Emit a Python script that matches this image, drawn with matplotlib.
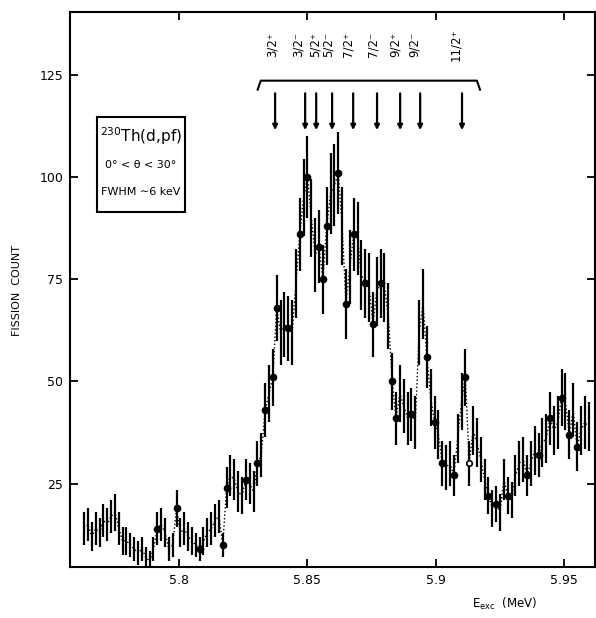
import matplotlib
matplotlib.use("Agg")
import matplotlib.pyplot as plt
from matplotlib.patches import Rectangle
import matplotlib.transforms as mtransforms
import numpy as np

# ---------------- data ----------------
energy = [
    5.7630, 5.7645, 5.7660, 5.7675, 5.7690, 5.7705, 5.7720, 5.7735, 5.7750, 5.7765,
    5.7780, 5.7795, 5.7810, 5.7825, 5.7840, 5.7855, 5.7870, 5.7885, 5.7900, 5.7915,
    5.7930, 5.7945, 5.7960, 5.7975, 5.7990, 5.8005, 5.8020, 5.8035, 5.8050, 5.8065,
    5.8080, 5.8095, 5.8110, 5.8125, 5.8140, 5.8155, 5.8170, 5.8185, 5.8200, 5.8215,
    5.8230, 5.8245, 5.8260, 5.8275, 5.8290, 5.8305, 5.8320, 5.8335, 5.8350, 5.8365,
    5.8380, 5.8395, 5.8410, 5.8425, 5.8440, 5.8455, 5.8470, 5.8485, 5.8500, 5.8515,
    5.8530, 5.8545, 5.8560, 5.8575, 5.8590, 5.8605, 5.8620, 5.8635, 5.8650, 5.8665,
    5.8680, 5.8695, 5.8710, 5.8725, 5.8740, 5.8755, 5.8770, 5.8785, 5.8800, 5.8815,
    5.8830, 5.8845, 5.8860, 5.8875, 5.8890, 5.8905, 5.8920, 5.8935, 5.8950, 5.8965,
    5.8980, 5.8995, 5.9010, 5.9025, 5.9040, 5.9055, 5.9070, 5.9085, 5.9100, 5.9115,
    5.9130, 5.9145, 5.9160, 5.9175, 5.9190, 5.9205, 5.9220, 5.9235, 5.9250, 5.9265,
    5.9280, 5.9295, 5.9310, 5.9325, 5.9340, 5.9355, 5.9370, 5.9385, 5.9400, 5.9415,
    5.9430, 5.9445, 5.9460, 5.9475, 5.9490, 5.9505, 5.9520, 5.9535, 5.9550, 5.9565,
    5.9580, 5.9595,
]
counts = [
    14, 15, 12, 14, 13, 16, 15, 17, 18, 14,
    11, 11, 10, 9, 8, 9, 7, 6, 9, 14,
    15, 13, 9, 10, 19, 13, 14, 12, 11, 10,
    9, 11, 13, 14, 16, 17, 10, 24, 27, 26,
    23, 22, 26, 25, 23, 30, 32, 43, 47, 51,
    68, 62, 64, 63, 62, 74, 86, 95, 100, 90,
    81, 83, 75, 88, 96, 98, 101, 88, 69, 78,
    86, 85, 76, 74, 73, 64, 72, 74, 73, 66,
    50, 41, 47, 44, 41, 42, 40, 62, 69, 56,
    46, 40, 37, 30, 29, 30, 27, 36, 45, 51,
    30, 38, 35, 31, 26, 22, 19, 20, 18, 26,
    22, 21, 27, 30, 31, 27, 30, 33, 32, 35,
    36, 41, 38, 40, 46, 45, 37, 43, 34, 38,
    40, 39,
]
errors = [
    4, 4, 3.5, 4, 3.5, 4, 4, 4, 4.5, 4,
    3.5, 3.5, 3, 3, 3, 3, 2.5, 2.5, 3, 4,
    4, 3.5, 3, 3, 4.5, 3.5, 4, 3.5, 3.5, 3,
    3, 3.5, 3.5, 4, 4, 4, 3, 5, 5, 5,
    5, 4.5, 5, 5, 5, 5.5, 5.5, 6.5, 7, 7,
    8, 8, 8, 8, 8, 8.5, 9, 9.5, 10, 9.5,
    9, 9, 8.5, 9.5, 10, 10, 10, 9.5, 8.5, 9,
    9, 9, 8.5, 8.5, 8.5, 8, 8.5, 8.5, 8.5, 8,
    7, 6.5, 7, 6.5, 6.5, 6.5, 6.5, 8, 8.5, 7.5,
    7, 6.5, 6, 5.5, 5.5, 5.5, 5, 6, 7, 7,
    5.5, 6, 6, 5.5, 5, 4.5, 4.5, 4.5, 4.5, 5,
    4.5, 4.5, 5, 5.5, 5.5, 5, 5.5, 6, 5.5, 6,
    6, 6.5, 6, 6.5, 7, 7, 6, 6.5, 6, 6,
    6.5, 6,
]
# channels drawn with a filled dot, and with an open circle
filled_idx = [19, 24, 30, 36, 37, 42, 45, 47, 49, 50, 53, 56, 58, 61, 62, 63,
              66, 68, 70, 73, 75, 77, 80, 81, 85, 89, 91, 93, 96, 99, 105,
              107, 110, 115, 118, 121, 124, 126, 128]
open_idx = [100]

level_energy = [5.8374, 5.8491, 5.8534, 5.8596, 5.8678, 5.8771, 5.8861, 5.8939, 5.9102]
level_label = ["3/2⁺", "3/2⁻", "5/2⁺", "5/2⁻", "7/2⁺", "7/2⁻", "9/2⁺", "9/2⁻", "11/2⁺"]
label_shift_px = [-3, -7, -1, -4, -5, -4, -5, -6, -6]

xticks = [5.80, 5.85, 5.90, 5.95]
xtick_labels = ["5.8", "5.85", "5.9", "5.95"]
yticks = [25, 50, 75, 100, 125]

# ---------------- figure ----------------
W, H = 596, 618
fig = plt.figure(figsize=(W / 100, H / 100), dpi=100)
ax = fig.add_axes([70 / W, (H - 567) / H, (595 - 70) / W, (567 - 12) / H])

E = np.array(energy)
C = np.array(counts)
S = np.array(errors)

ax.plot(E, C, linestyle=(0, (1, 1.6)), color="black", lw=1.0, zorder=2)
ax.errorbar(E, C, yerr=S, fmt="none", ecolor="black", elinewidth=1.6,
            capsize=0, zorder=3)
fi = np.array(filled_idx)
ax.plot(E[fi], C[fi], "o", color="black", ms=4.5, zorder=4)
oi = np.array(open_idx)
ax.plot(E[oi], C[oi], "o", mfc="white", mec="black", mew=1.2, ms=4, zorder=4)

ax.set_xlim(5.7575, 5.962)
ax.set_ylim(4.6, 140.4)

ax.set_xticks(xticks)
ax.set_xticklabels(xtick_labels)
ax.set_yticks(yticks)
ax.tick_params(direction="in", length=6, width=1.3, top=True, right=True,
               labelsize=9, pad=5)
for s in ax.spines.values():
    s.set_linewidth(1.5)

# level markers
for e, lab, dx in zip(level_energy, level_label, label_shift_px):
    ax.annotate("", xy=(e, 111.5), xytext=(e, 120.5),
                arrowprops=dict(arrowstyle="-|>", color="black", lw=1.6,
                                mutation_scale=7, shrinkA=0, shrinkB=0))
    ax.text(e, 132.5, lab, rotation=90, ha="center", va="center", fontsize=8.5,
            transform=ax.transData + mtransforms.ScaledTranslation(dx / 100, 0, fig.dpi_scale_trans))
# brace
b0, b1 = level_energy[0] - 0.0068, level_energy[-1] + 0.0070
ax.plot([b0, b0 + 0.0012, b1 - 0.0012, b1], [121.4, 123.6, 123.6, 121.4],
        color="black", lw=1.5)

# info box
box = Rectangle((0.051, 0.640), 0.168, 0.171, transform=ax.transAxes,
                fill=False, lw=1.5, ec="black", zorder=5)
ax.add_patch(box)
ax.text(0.135, 0.776, r"$^{230}$Th(d,pf)", transform=ax.transAxes,
        ha="center", va="center", fontsize=11)
ax.text(0.135, 0.725, "0° < θ < 30°", transform=ax.transAxes,
        ha="center", va="center", fontsize=8)
ax.text(0.135, 0.675, "FWHM ∼6 keV", transform=ax.transAxes,
        ha="center", va="center", fontsize=8)

# axis labels
fig.text(17 / W, 1 - 290 / H, "FISSION  COUNT", rotation=90, ha="center",
         va="center", fontsize=8)
fig.text(505 / W, 1 - 604 / H, r"E$_{\mathrm{exc}}$  (MeV)", ha="center",
         va="center", fontsize=8.5)

fig.savefig("out.png", dpi=100)
